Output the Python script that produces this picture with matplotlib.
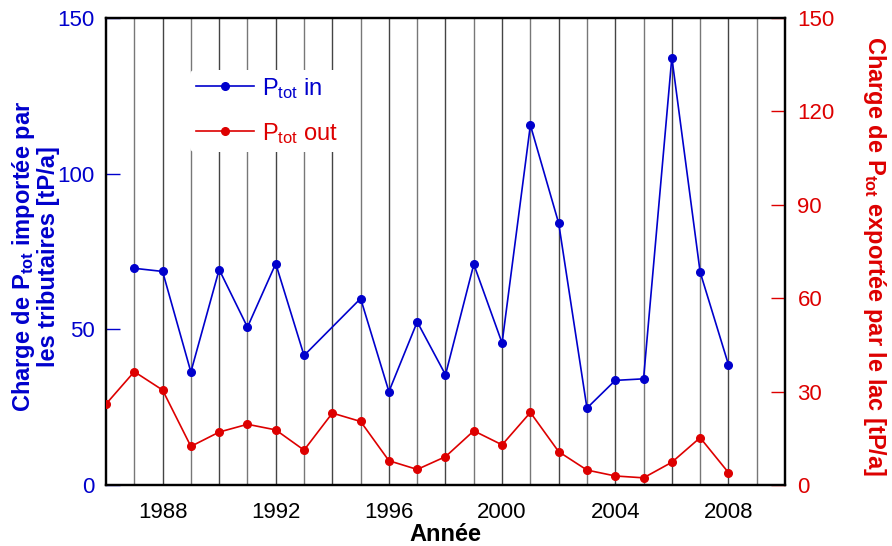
import matplotlib
matplotlib.use("Agg")
import matplotlib.pyplot as plt
import numpy as np

plt.rcParams['font.family'] = ['Liberation Sans', 'DejaVu Sans']
plt.rcParams['mathtext.fontset'] = 'custom'
plt.rcParams['mathtext.rm'] = 'Liberation Sans'
plt.rcParams['mathtext.it'] = 'Liberation Sans'
plt.rcParams['mathtext.bf'] = 'Liberation Sans:bold'

years_in = [1987, 1988, 1989, 1990, 1991, 1992, 1993, 1995, 1996, 1997, 1998,
            1999, 2000, 2001, 2002, 2003, 2004, 2005, 2006, 2007, 2008]
p_in = [69.6, 68.6, 36.3, 69.2, 50.7, 71.1, 41.6, 59.9, 30.0, 52.4, 35.4,
        70.9, 45.6, 115.6, 84.1, 24.7, 33.6, 34.1, 137.3, 68.4, 38.7]

years_out = list(range(1986, 2009))
p_out = [26.0, 36.4, 30.5, 12.4, 17.0, 19.5, 17.7, 11.2, 23.1, 20.4, 7.8, 5.0,
         9.1, 17.4, 12.9, 23.3, 10.7, 4.8, 2.9, 2.3, 7.3, 15.2, 4.0]

xticks = [1988, 1992, 1996, 2000, 2004, 2008]
left_ticks = [0, 50, 100, 150]
right_ticks = [0, 30, 60, 90, 120, 150]

BLUE = '#0000CC'
RED = '#DD0000'

fig = plt.figure(figsize=(8.92, 5.46), dpi=100)
ax = fig.add_axes([106 / 892, 1 - 485 / 546, 679 / 892, 467 / 546])
ax2 = ax.twinx()

grid_years = list(range(1987, 2010))
for yr in grid_years:
    shade = '#444444' if yr % 2 == 0 else '#777777'
    ax.axvline(yr, color=shade, lw=1.0, zorder=0)

l1, = ax.plot(years_in, p_in, color=BLUE, lw=1.2, marker='o', ms=5.5, zorder=3,
              label=r'P$_{\mathrm{tot}}$ in')
l2, = ax2.plot(years_out, p_out, color=RED, lw=1.2, marker='o', ms=5.5, zorder=3,
               label=r'P$_{\mathrm{tot}}$ out')

ax.set_xlim(1986, 2010)
ax.set_ylim(0, 150)
ax2.set_ylim(0, 150)
ax.set_xticks(xticks)
ax.set_yticks(left_ticks)
ax2.set_yticks(right_ticks)

ax.tick_params(axis='x', labelsize=16, length=0, pad=12)
ax.tick_params(axis='y', labelsize=16, colors=BLUE, direction='in', length=10, width=1, pad=8)
ax2.tick_params(axis='y', labelsize=16, colors=RED, direction='in', length=10, width=1, pad=9)
for sp in ['left', 'right', 'top', 'bottom']:
    ax.spines[sp].set_linewidth(1.6)
    ax2.spines[sp].set_linewidth(1.6)
    ax.spines[sp].set_color('black')
    ax2.spines[sp].set_color('black')

ax.set_xlabel('Année', fontsize=17, fontweight='bold', labelpad=0)
ax.set_ylabel('Charge de P$_{\\mathbf{tot}}$ importée par\nles tributaires [tP/a]',
              fontsize=17, fontweight='bold', color=BLUE, linespacing=1.0)
ax.yaxis.set_label_coords(-0.068, 0.49)
ax2.set_ylabel('Charge de P$_{\\mathbf{tot}}$ exportée par le lac [tP/a]',
               fontsize=17, fontweight='bold', color=RED, rotation=270, va='center')
ax2.yaxis.set_label_coords(1.1325, 0.49)

ax2.set_zorder(ax.get_zorder() + 1)
ax2.patch.set_visible(False)
ax.patch.set_visible(True)

leg = ax2.legend(handles=[l1, l2], loc='upper left', bbox_to_anchor=(0.1237, 0.889),
                 frameon=True, fontsize=17, handlelength=2.45, labelspacing=0.85,
                 borderpad=0.25, handletextpad=0.35, borderaxespad=0)
leg.get_frame().set_edgecolor('none')
leg.get_frame().set_facecolor('white')
leg.get_frame().set_alpha(1)
for t, c in zip(leg.get_texts(), [BLUE, RED]):
    t.set_color(c)

fig.savefig('out.png', dpi=100)
